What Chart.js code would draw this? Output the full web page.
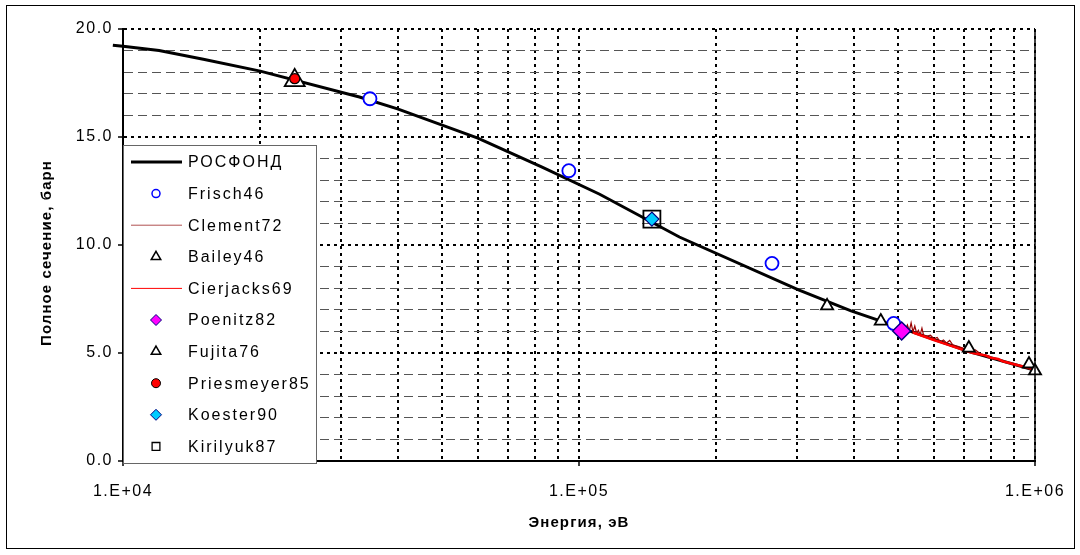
<!DOCTYPE html>
<html>
<head>
<meta charset="utf-8">
<script src="https://cdn.jsdelivr.net/npm/chart.js@4.4.1/dist/chart.umd.min.js"></script>
<style>
  html, body { margin: 0; padding: 0; background: #fff; }
  #wrap { width: 1080px; height: 555px; position: relative; }
</style>
</head>
<body>
<div id="wrap"><canvas id="chart" width="1080" height="555"></canvas></div>
<script>
// energies in eV, cross sections in barn
const rosfondE = [9.5e3, 1.0e4, 1.2e4, 1.5e4, 2.0e4, 3.3e4, 4.0e4, 6.0e4, 8.3e4, 1.11e5, 1.66e5, 3.03e5, 3.95e5, 4.63e5, 7.2e5, 1.0e6, 1.06e6]
const rosfondS = [19.25, 19.2, 19.0, 18.6, 18.05, 16.85, 16.3, 14.95, 13.6, 12.35, 10.37, 7.92, 6.95, 6.45, 5.05, 4.2, 4.1]

const frischE = [3.48e4, 9.5e4, 2.65e5, 4.9e5]
const frischS = [16.77, 13.44, 9.15, 6.37]

const clementE = [5.2e5, 5.25e5, 5.3e5, 5.35e5, 5.4e5, 5.45e5, 5.5e5, 5.55e5, 5.6e5, 5.65e5, 5.7e5, 5.8e5, 5.9e5, 6.0e5, 6.1e5, 6.2e5, 6.3e5, 6.4e5, 6.5e5, 6.6e5, 6.8e5, 7.0e5, 7.2e5, 7.4e5, 7.6e5, 7.8e5, 8.0e5]
const clementS = [6.12, 6.3, 6.02, 6.4, 5.98, 6.25, 5.92, 6.05, 5.85, 6.15, 5.8, 5.78, 5.82, 5.66, 5.72, 5.52, 5.6, 5.46, 5.58, 5.38, 5.3, 5.2, 5.1, 5.14, 4.95, 4.92, 4.82]

const baileyE = [2.38e4]
const baileyS = [17.62]

const cierjacksE = [5.4e5, 6.0e5, 6.5e5, 7.0e5, 7.3e5, 7.5e5, 7.8e5, 8.0e5, 8.3e5, 8.5e5, 9.0e5, 9.5e5, 1.0e6, 1.06e6]
const cierjacksS = [5.95, 5.6, 5.35, 5.12, 5.0, 4.95, 4.88, 4.78, 4.72, 4.62, 4.48, 4.35, 4.22, 4.08]

const poenitzE = [5.1e5]
const poenitzS = [6.02]

const fujitaE = [3.5e5, 4.59e5, 7.16e5, 9.7e5, 1.0e6]
const fujitaS = [7.18, 6.48, 5.23, 4.49, 4.17]

const priesmeyerE = [2.38e4]
const priesmeyerS = [17.7]

const koesterE = [1.445e5]
const koesterS = [11.2]

const kirilyukE = [1.445e5]
const kirilyukS = [11.2]

const yTicks = [0, 5, 10, 15, 20]

const xTitle = "Энергия, эВ"
const yTitle = "Полное сечение, барн"

const pts = (xs, ys) => xs.map((x, i) => ({x, y: ys[i]}))
const isDecade = v => Math.abs(Math.log10(v) - Math.round(Math.log10(v))) < 1e-9
const FONT = "'Liberation Sans', Arial, sans-serif"

const datasets = [
  {label: "РОСФОНД", data: pts(rosfondE, rosfondS), showLine: true, borderColor: "#000", borderWidth: 3, pointRadius: 0, clip: false},
  {label: "Frisch46", data: pts(frischE, frischS), pointStyle: "circle", pointRadius: 6.5, borderColor: "#0000ff", backgroundColor: "#fff", pointBorderWidth: 1.8},
  {label: "Clement72", data: pts(clementE, clementS), showLine: true, borderColor: "#990000", borderWidth: 1.2, pointRadius: 0},
  {label: "Bailey46", data: pts(baileyE, baileyS), pointStyle: "triangle", pointRadius: 11.5, borderColor: "#000", backgroundColor: "#fff", pointBorderWidth: 1.8},
  {label: "Cierjacks69", data: pts(cierjacksE, cierjacksS), showLine: true, borderColor: "#ff0000", borderWidth: 2.5, pointRadius: 0, clip: false},
  {label: "Poenitz82", data: pts(poenitzE, poenitzS), pointStyle: "rectRot", pointRadius: 9, borderColor: "#000080", backgroundColor: "#ff00ff", pointBorderWidth: 1.5},
  {label: "Fujita76", data: pts(fujitaE, fujitaS), pointStyle: "triangle", pointRadius: 7, borderColor: "#000", backgroundColor: "#fff", pointBorderWidth: 1.8, clip: false},
  {label: "Priesmeyer85", data: pts(priesmeyerE, priesmeyerS), pointStyle: "circle", pointRadius: 5, borderColor: "#000", backgroundColor: "#ff0000", pointBorderWidth: 1.2},
  {label: "Koester90", data: pts(koesterE, koesterS), pointStyle: "rectRot", pointRadius: 7, borderColor: "#000080", backgroundColor: "#00ccff", pointBorderWidth: 1.2},
  {label: "Kirilyuk87", data: pts(kirilyukE, kirilyukS), pointStyle: "rect", pointRadius: 12, borderColor: "#000", backgroundColor: "rgba(0,0,0,0)", pointBorderWidth: 1.8}
]
// excel order: first series at the bottom
datasets.forEach((d, i) => { d.order = datasets.length - i })

// legend samples
const legendStyle = [
  {line: "#000", width: 3},
  {point: "circle", r: 4, fill: "#fff", stroke: "#0000ff", bw: 1.5},
  {line: "#b05050", width: 1},
  {point: "triangle", r: 5.5, fill: "#fff", stroke: "#000", bw: 1.5},
  {line: "#ff0000", width: 1},
  {point: "rectRot", r: 5.5, fill: "#ff00ff", stroke: "#000080", bw: 1},
  {point: "triangle", r: 5.5, fill: "#fff", stroke: "#000", bw: 1.5},
  {point: "circle", r: 4.5, fill: "#ff0000", stroke: "#000", bw: 1},
  {point: "rectRot", r: 5.5, fill: "#00ccff", stroke: "#000080", bw: 1},
  {point: "rect", r: 5.5, fill: "#fff", stroke: "#000", bw: 1.3}
]

const spacing = {
  id: "spacing",
  beforeDraw(chart) { chart.ctx.letterSpacing = "1.5px" },
  afterDraw(chart) { chart.ctx.letterSpacing = "0px" }
}

const extras = {
  id: "extras",
  afterDraw(chart) {
    const {ctx, chartArea: a} = chart
    ctx.save()
    // right edge of plot
    ctx.strokeStyle = "#000"
    ctx.lineWidth = 1.5
    ctx.setLineDash([])
    ctx.beginPath()
    ctx.moveTo(a.right, a.top)
    ctx.lineTo(a.right, a.bottom)
    ctx.stroke()

    // outer frame
    ctx.lineWidth = 1
    ctx.strokeRect(6.5, 5.5, 1068, 543)

    // axis titles
    ctx.fillStyle = "#000"
    ctx.letterSpacing = "1.1px"
    ctx.font = "bold 15px " + FONT
    ctx.textAlign = "center"
    ctx.textBaseline = "middle"
    ctx.fillText(xTitle, (a.left + a.right) / 2, 523)
    ctx.save()
    ctx.translate(47, (a.top + a.bottom) / 2 + 8)
    ctx.rotate(-Math.PI / 2)
    ctx.fillText(yTitle, 0, 0)
    ctx.restore()

    // legend
    const lx = 123.5, ly = 145.5, lw = 193, lh = 318
    ctx.fillStyle = "#fff"
    ctx.fillRect(lx, ly, lw, lh)
    ctx.strokeStyle = "#666"
    ctx.lineWidth = 1
    ctx.strokeRect(lx, ly, lw, lh)
    ctx.letterSpacing = "2px"
    ctx.font = "16px " + FONT
    ctx.textAlign = "left"
    datasets.forEach((d, i) => {
      const y = 162 + i * 31.6
      const s = legendStyle[i]
      if (s.line) {
        ctx.strokeStyle = s.line
        ctx.lineWidth = s.width
        ctx.beginPath()
        ctx.moveTo(131, y)
        ctx.lineTo(182, y)
        ctx.stroke()
      } else {
        ctx.fillStyle = s.fill
        ctx.strokeStyle = s.stroke
        ctx.lineWidth = s.bw
        Chart.helpers.drawPoint(ctx, {pointStyle: s.point, radius: s.r, rotation: 0, borderWidth: s.bw}, 156, y)
      }
      ctx.fillStyle = "#000"
      ctx.fillText(d.label, 188, y + 1)
    })
    ctx.restore()
  }
}

new Chart(document.getElementById("chart"), {
  type: "scatter",
  data: {datasets},
  options: {
    responsive: false,
    animation: false,
    devicePixelRatio: 1,
    layout: {padding: {top: 29, right: 45, left: 0, bottom: 0}},
    plugins: {legend: {display: false}, tooltip: {enabled: false}},
    scales: {
      x: {
        type: "logarithmic",
        min: 1e4,
        max: 1e6,
        afterFit(scale) { scale.height = 94 },
        afterBuildTicks(scale) {
          const t = []
          for (let d = 1e4; d < 1e6; d *= 10) {
            for (let m = 1; m < 10; m++) t.push({value: m * d})
          }
          t.push({value: 1e6})
          scale.ticks = t
        },
        ticks: {
          autoSkip: false,
          maxRotation: 0,
          padding: 16,
          color: "#000",
          font: {family: FONT, size: 16},
          callback: v => isDecade(v) ? "1.E+0" + Math.round(Math.log10(v)) : ""
        },
        grid: {
          color: "#000",
          lineWidth: 2,
          tickLength: 5,
          tickWidth: 1.5,
          tickColor: c => c.tick && isDecade(c.tick.value) ? "#000" : "rgba(0,0,0,0)"
        },
        border: {display: true, color: "#000", width: 2, dash: [3, 4]}
      },
      y: {
        min: 0,
        max: 20,
        afterFit(scale) { scale.width = 123 },
        ticks: {
          stepSize: 1,
          autoSkip: false,
          padding: 5,
          color: "#000",
          font: {family: FONT, size: 16},
          callback: v => yTicks.includes(v) ? v.toFixed(1) : ""
        },
        grid: {
          color: c => c.tick && c.tick.value % 5 === 0 ? "#000" : "#555",
          lineWidth: c => c.tick && c.tick.value % 5 === 0 ? 2 : 1,
          tickLength: 5,
          tickWidth: 1.5,
          tickColor: c => c.tick && c.tick.value % 5 === 0 ? "#000" : "rgba(0,0,0,0)"
        },
        border: {
          display: true, color: "#000", width: 2,
          dash: c => c.tick && c.tick.value % 5 !== 0 ? [9, 5] : [3, 4]
        }
      }
    }
  },
  plugins: [spacing, extras]
})
</script>
</body>
</html>
